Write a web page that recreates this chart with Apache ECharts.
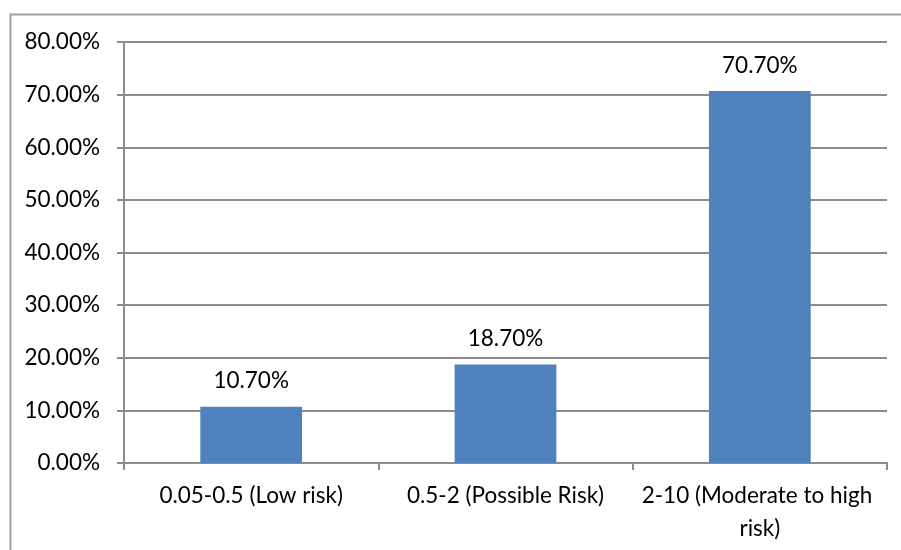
<!DOCTYPE html>
<html>
<head>
<meta charset="utf-8">
<script src="https://cdn.jsdelivr.net/npm/echarts@6/dist/echarts.min.js"></script>
<style>
html,body{margin:0;padding:0;background:#fff;}
#chart{width:901px;height:550px;}
</style>
</head>
<body>
<div id="chart"></div>
<script>
var categories = ['0.05-0.5 (Low risk)', '0.5-2 (Possible Risk)', '2-10 (Moderate to high risk)'];
var values = [10.7, 18.7, 70.7];
var yMin = 0, yMax = 80, yStep = 10;

var FONT = 'Lato';
var FS = 22.5;
var chart = echarts.init(document.getElementById('chart'), null, {renderer: 'canvas'});
chart.setOption({
  animation: false,
  backgroundColor: '#ffffff',
  graphic: [{
    type: 'rect',
    shape: {x: 10.5, y: 14.5, width: 900, height: 550},
    style: {fill: 'none', stroke: '#a0a0a0', lineWidth: 2},
    silent: true
  }],
  grid: {left: 124, right: 14, top: 42, bottom: 87, containLabel: false},
  xAxis: {
    type: 'category',
    data: categories,
    axisLine: {show: true, lineStyle: {color: '#8c8c8c', width: 2}},
    axisTick: {show: true, alignWithLabel: false, length: 7, lineStyle: {color: '#8c8c8c', width: 2}},
    axisLabel: {
      color: '#000', fontFamily: FONT, fontSize: FS, margin: 16,
      width: 250, overflow: 'break', lineHeight: 33, interval: 0
    },
    splitLine: {show: false}
  },
  yAxis: {
    type: 'value',
    min: yMin, max: yMax, interval: yStep,
    axisLine: {show: true, lineStyle: {color: '#8c8c8c', width: 2}},
    axisTick: {show: true, length: 7, lineStyle: {color: '#8c8c8c', width: 2}},
    axisLabel: {
      color: '#000', fontFamily: FONT, fontSize: FS, margin: 24,
      formatter: function (v) { return v.toFixed(2) + '%'; }
    },
    splitLine: {show: true, lineStyle: {color: '#8c8c8c', width: 2}}
  },
  series: [{
    type: 'bar',
    data: values,
    barWidth: '40%',
    itemStyle: {color: '#4F81BD'},
    label: {
      show: true, position: 'top', distance: 14,
      color: '#000', fontFamily: FONT, fontSize: FS,
      formatter: function (p) { return p.value.toFixed(2) + '%'; }
    }
  }]
});
</script>
</body>
</html>
